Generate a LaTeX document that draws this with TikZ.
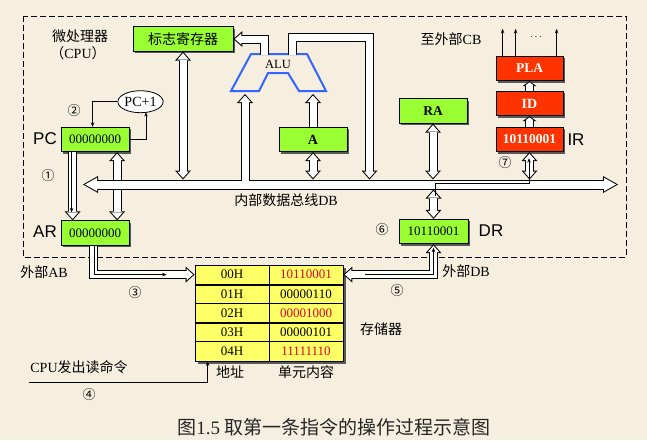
\documentclass[tikz,border=0pt]{standalone}
\usepackage{fontspec}
\setmainfont{Liberation Serif}
\newfontfamily\cjk{Noto Sans CJK SC}
\newfontfamily\arialf{Liberation Sans}
\usetikzlibrary{arrows.meta,shadows,calc,shapes.geometric}
\definecolor{bgc}{RGB}{246,239,224}
\definecolor{gfill}{RGB}{153,255,51}
\definecolor{rfill}{RGB}{255,51,0}
\definecolor{yfill}{RGB}{255,255,102}
\definecolor{alub}{RGB}{51,102,255}
\definecolor{redt}{RGB}{225,0,40}
\tikzset{
  HB/.tip={Triangle[length=9pt,width=16pt,line width=0pt]},
  HW/.tip={Triangle[length=6.5pt,width=11.5pt,line width=0pt]},
  BB/.tip={Triangle[length=15pt,width=17pt,line width=0pt]},
  BW/.tip={Triangle[length=12pt,width=13.6pt,line width=0pt]},
  SB/.tip={Triangle[length=5pt,width=14pt,line width=0pt]},
  SW/.tip={Triangle[length=2.8pt,width=7.8pt,line width=0pt]},
  TA/.tip={Stealth[length=4.5pt,width=3.5pt]},
  fatB/.style={line width=9pt,line join=miter,draw=black},
  fatW/.style={line width=7pt,line join=miter,draw=white},
  thinl/.style={line width=0.7pt,draw=black},
  boxbase/.style={draw=black,line width=0.8pt,minimum width=68pt,minimum height=24.5pt,inner sep=0pt,
    general shadow={fill=black!65,shadow xshift=2pt,shadow yshift=-2pt}},
  greenbox/.style={boxbase,fill=gfill,font=\fontsize{13}{15}\selectfont},
  redbox/.style={boxbase,fill=rfill,text=white,font=\fontsize{13.5}{15}\selectfont\bfseries},
  cell/.style={draw=black,line width=0.8pt,fill=yfill,minimum width=74pt,minimum height=19.2pt,inner sep=0pt,
    font=\fontsize{13}{15}\selectfont,general shadow={fill=black!65,shadow xshift=2.5pt,shadow yshift=-2.5pt}},
  zh/.style={font=\fontsize{14}{16}\selectfont\cjk,inner sep=0pt},
  lat/.style={font=\fontsize{14}{16}\selectfont,inner sep=0pt},
  reg/.style={font=\fontsize{17}{19}\selectfont\arialf,inner sep=0pt},
  num/.style={font=\fontsize{13}{15}\selectfont\cjk,inner sep=0pt},
}
\newcommand\fatS[1]{\draw[fatB,-{HB}] #1; \draw[fatW,-{HW},shorten >=1.5pt] #1;}
\newcommand\fatD[1]{\draw[fatB,{HB}-{HB}] #1; \draw[fatW,{HW}-{HW},shorten <=1.5pt,shorten >=1.5pt] #1;}
\newcommand\fatSm[1]{\draw[fatB,-{SB}] #1; \draw[fatW,-{SW},shorten >=1.2pt] #1;}
\begin{document}
\begin{tikzpicture}[x=1pt,y=-1pt]
\fill[bgc] (0,0) rectangle (647,440);
\useasboundingbox (0,0) rectangle (647,440);
% CPU border
\draw[dash pattern=on 6pt off 3pt,line width=0.8pt] (23,16) rectangle (626,257);

% ALU
\draw[alub,line width=2pt] (251,54) -- (307,54) -- (326,91) -- (299,91) -- (288,73) -- (268,73) -- (259,91) -- (231,91) -- cycle;
\node[font=\fontsize{12.5}{14}\selectfont,inner sep=0pt] (alu) at (278,64) {ALU};
\coordinate (aluL) at (245,94);
\coordinate (aluR) at (313,94);
\coordinate (aluO1) at (264,55);
\coordinate (aluO2) at (292.5,55);
\coordinate (aluC) at (292.5,37);
\coordinate (aluD) at (369.5,37);
\coordinate (dbin) at (369.5,179.5);

% bus
\coordinate (busL) at (83,184.5);
\coordinate (busR) at (618,184.5);
\coordinate (busT) at (0,179.5);
\coordinate (busB) at (0,189.5);

% boxes
\node[greenbox,minimum width=100pt,font=\fontsize{14}{16}\selectfont\cjk] (flag) at (183,39) {标志寄存器};
\node[greenbox] (PC) at (95,139.5) {00000000};
\node[greenbox] (AR) at (95,233) {00000000};
\node[greenbox,font=\fontsize{14}{16}\selectfont\bfseries] (A) at (313,139.5) {A};
\node[greenbox,font=\fontsize{13.5}{16}\selectfont\bfseries] (RA) at (433,111) {RA};
\node[greenbox,minimum width=69pt] (DR) at (433.5,231.5) {10110001};
\node[redbox,minimum width=67pt] (IR) at (529.5,139.5) {10110001};
\node[redbox,minimum width=67pt,font=\fontsize{14}{16}\selectfont\bfseries] (ID) at (529.5,103.5) {ID};
\node[redbox,minimum width=67pt] (PLA) at (529.5,68.5) {PLA};
\node[ellipse,draw=black,line width=0.8pt,fill=white,minimum width=44pt,minimum height=22pt,inner sep=0pt,
  font=\fontsize{14}{16}\selectfont] (inc) at (140.5,101.7) {PC+1};

% memory
\node[cell] (a0) at (232,274.6) {00H};
\node[cell,text=redt] (b0) at (306,274.6) {10110001};
\node[cell] (a1) at (232,293.8) {01H};
\node[cell] (b1) at (306,293.8) {00000110};
\node[cell] (a2) at (232,313) {02H};
\node[cell,text=redt] (b2) at (306,313) {00001000};
\node[cell] (a3) at (232,332.2) {03H};
\node[cell] (b3) at (306,332.2) {00000101};
\node[cell] (a4) at (232,351.4) {04H};
\node[cell,text=redt] (b4) at (306,351.4) {11111110};
\draw[line width=1.8pt] (a0.south west) -- (b0.south east);
\draw[line width=1.8pt] (a2.south west) -- (b2.south east);

% fat arrows (under the bus)
\fatD{($(PC.south west)+(56.5,0)$) -- ($(AR.north west)+(56.5,0)$)}
\fatS{($(PC.south west)+(12,0)$) -- ($(AR.north west)+(12,0)$)}
\fatD{(flag.south) -- (flag.south |- busT)}
\fatD{(A.south) -- (A.south |- busT)}
\fatS{(A.north) -- (aluR)}
\fatD{(RA.south) -- (RA.south |- busT)}
\fatD{(IR.south) -- (IR.south |- busT)}
\fatD{(DR.north |- busB) -- (DR.north)}
\fatS{(aluO2) -- (aluC) -- (aluD) -- (dbin)}
\fatS{(aluO1) |- (flag.east)}
\fatSm{(IR.north) -- (ID.south)}
\fatSm{(ID.north) -- (PLA.south)}
\fatS{($(AR.south west)+(33,0)$) |- (a0.west)}
\fatD{(b0.east) -| (DR.south)}

% internal data bus
\draw[line width=10pt,{BB}-{BB}] (busL) -- (busR);
\draw[line width=8pt,white,{BW}-{BW},shorten <=2pt,shorten >=2pt] (busL) -- (busR);
% ALU left input merging with the bus
\draw[fatB,-{HB}] (aluL |- 0,180.5) -- (aluL);
\draw[fatW,-{HW},shorten >=1.5pt] (aluL |- 0,186) -- (aluL);

% thin lines
\draw[thinl,-{TA}] ($(PC.south west)+(11,0)$) -- ($(AR.north west)+(11,-8)$);
\draw[thinl,-{TA}] ($(AR.south west)+(34,0)$) |- ($(a0.west)+(-28,0)$);
\draw[thinl,-{TA}] ($(b0.east)+(22,0)$) -| ($(DR.south)+(0,3.5)$);
\draw[thinl,-{TA}] ($(DR.north)+(1.5,-23)$) |- ($(IR.south)+(-0.5,31)$) -- ($(IR.south)+(-0.5,6)$);
\draw[thinl,-{TA}] (PC.east) -| ($(inc.south)+(5.5,-1)$);
\draw[thinl,-{TA}] (inc.west) -| ($(PC.north west)+(32,0)$);
\foreach \dx in {7,20,61} \draw[thinl,-{TA}] ($(PLA.north west)+(\dx,0)$) -- ++(0,-27);
\node[inner sep=0pt] (dots) at (536,37) {$\cdots$};
\coordinate (cmd) at (29,382);
\draw[thinl,-{TA}] (cmd) -| ($(a4.south west)+(13,0)$);

% labels
\node[zh] (t1) at (80,36) {微处理器};
\node[lat] (t2) at (78,53) {{\cjk （}CPU{\cjk ）}};
\node[lat] (t3) at (451,39) {{\cjk 至外部}CB};
\node[lat] (t4) at (286,200) {{\cjk 内部数据总线}DB};
\node[lat] (t5) at (44,272) {{\cjk 外部}AB};
\node[lat] (t6) at (466,271) {{\cjk 外部}DB};
\node[zh] (t7) at (381,329) {存储器};
\node[zh] (t8) at (230,372) {地址};
\node[zh] (t9) at (306,372) {单元内容};
\node[lat] (t10) at (79,367) {CPU{\cjk 发出读命令}};
\node[reg] (lPC) at (45,139) {PC};
\node[reg] (lAR) at (45,232) {AR};
\node[reg] (lDR) at (491,231) {DR};
\node[reg] (lIR) at (576,140) {IR};
\node[num] (n1) at (48,176) {①};
\node[num] (n2) at (74,111) {②};
\node[num] (n3) at (135,293) {③};
\node[num] (n4) at (89,395) {④};
\node[num] (n5) at (397,291) {⑤};
\node[num] (n6) at (382,230) {⑥};
\node[num] (n7) at (505,163) {⑦};
\node[font=\fontsize{19}{21}\selectfont,inner sep=0pt,text=black!85] (cap) at (334,427) {{\cjk 图}1.5 {\cjk 取第一条指令的操作过程示意图}};
\end{tikzpicture}
\end{document}
